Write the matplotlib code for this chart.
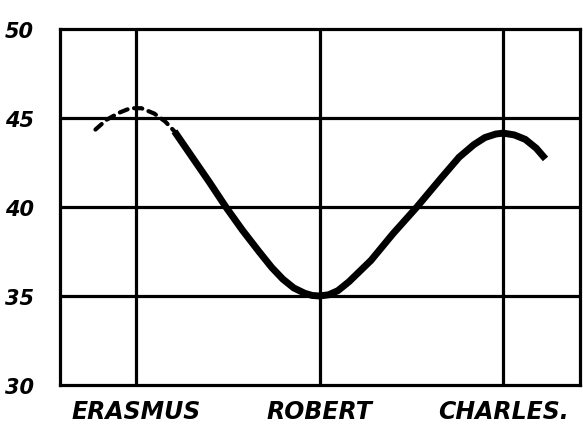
import matplotlib
matplotlib.use("Agg")
import matplotlib.pyplot as plt

# Data
categories = ["ERASMUS", "ROBERT", "CHARLES."]
y_ticks = [30, 35, 40, 45, 50]
y_tick_labels = ["30", "35", "40", "45", "50"]

# uncertain (dashed) early part
dashed_pos = [-0.22, -0.16, -0.09, -0.03, 0.03, 0.10, 0.16, 0.21]
dashed_val = [44.35, 44.9, 45.3, 45.55, 45.55, 45.25, 44.8, 44.25]

# solid curve
solid_pos = [0.21, 0.30, 0.40, 0.49, 0.58, 0.67, 0.74, 0.80, 0.86, 0.92, 0.96, 1.0,
             1.05, 1.10, 1.16, 1.22, 1.28, 1.40, 1.53, 1.66, 1.76, 1.84, 1.90,
             1.96, 2.0, 2.06, 2.12, 2.18, 2.23]
solid_val = [44.25, 42.9, 41.4, 40.0, 38.7, 37.5, 36.6, 35.95, 35.45, 35.15, 35.03, 35.0,
             35.07, 35.3, 35.8, 36.4, 37.0, 38.5, 40.0, 41.6, 42.8, 43.5, 43.9,
             44.1, 44.15, 44.05, 43.8, 43.3, 42.7]

fig = plt.figure(figsize=(5.83, 4.27), dpi=100)
ax = fig.add_axes([60/583, 41/427, 520/583, 356/427])

ax.set_xlim(-0.413, 2.418)
ax.set_ylim(30, 50)

lw_grid = 2.3
for i in range(len(categories)):
    ax.axvline(i, color="black", lw=lw_grid, zorder=1)
for v in y_ticks[1:-1]:
    ax.axhline(v, color="black", lw=lw_grid, zorder=1)

ax.plot(dashed_pos, dashed_val, color="black", lw=3.0,
        linestyle=(0, (2.0, 1.6)), solid_capstyle="round", dash_capstyle="round", zorder=3)
ax.plot(solid_pos, solid_val, color="black", lw=5.0,
        solid_capstyle="butt", solid_joinstyle="round", zorder=3)

for s in ax.spines.values():
    s.set_linewidth(lw_grid)
    s.set_color("black")

font = dict(family="DejaVu Sans", weight="bold", style="italic")
ax.set_xticks(range(len(categories)))
ax.set_xticklabels(categories, fontsize=17, **font)
ax.set_yticks(y_ticks)
ax.set_yticklabels(y_tick_labels, fontsize=15, **font)
ax.tick_params(axis="both", length=0)
ax.tick_params(axis="y", pad=19)
ax.tick_params(axis="x", pad=10)

fig.savefig("out.png", dpi=100, facecolor="white")
